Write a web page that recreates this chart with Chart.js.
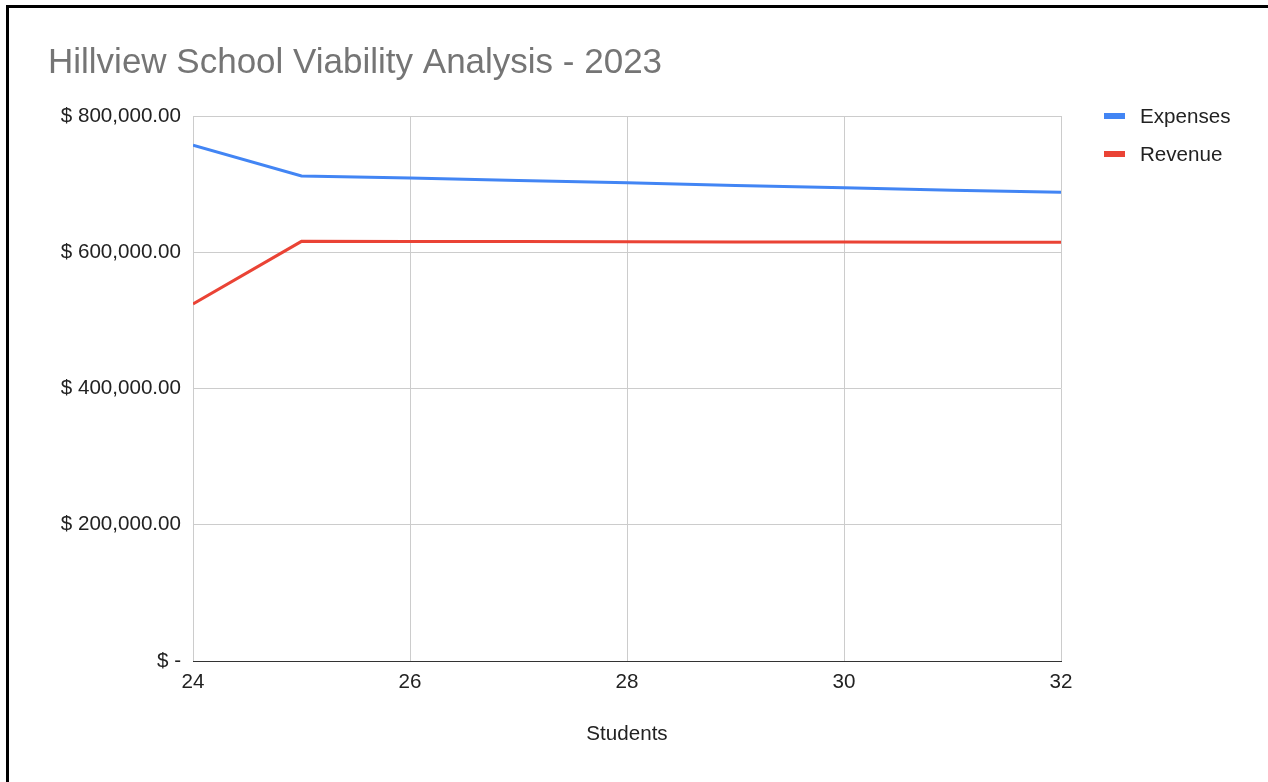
<!DOCTYPE html>
<html>
<head>
<meta charset="utf-8">
<title>Hillview School Viability Analysis - 2023</title>
<script src="https://cdn.jsdelivr.net/npm/chart.js@4.4.1/dist/chart.umd.min.js"></script>
<style>
  html, body { margin: 0; padding: 0; background: #fff; }
  #wrap { position: relative; width: 1268px; height: 782px; }
</style>
</head>
<body>
<div id="wrap"><canvas id="chart" width="1268" height="782"></canvas></div>
<script>
// chart data
const students = [24, 25, 26, 27, 28, 29, 30, 31, 32];
const expenses = [757000, 712000, 709000, 705500, 702000, 698000, 694500, 691000, 688000];
const revenue  = [524000, 616000, 615800, 615600, 615400, 615200, 615000, 614800, 614600];
const seriesNames = ['Expenses', 'Revenue'];
const seriesColors = ['#4285f4', '#ea4335'];
const chartTitle = 'Hillview School Viability Analysis - 2023';
const xTitle = 'Students';

const FONT = "'Liberation Sans', Arial, sans-serif";
const LABEL_SIZE = 20.6;

function toPoints(ys) {
  return students.map((x, i) => ({ x: x, y: ys[i] }));
}

function money(v) {
  if (v === 0) return '$ -';
  return '$ ' + v.toLocaleString('en-US', { minimumFractionDigits: 2, maximumFractionDigits: 2 });
}

/**
 * Title, legend and the page frame, drawn straight on the canvas
 */
const decorations = {
  id: 'decorations',
  afterDraw(chart) {
    const ctx = chart.ctx;
    ctx.save();

    // frame (left + top edge of the screenshot)
    ctx.fillStyle = '#000';
    ctx.fillRect(6, 5, 3, 782);
    ctx.fillRect(6, 5, 1268, 3);

    // title
    ctx.fillStyle = '#757575';
    ctx.font = '35px ' + FONT;
    ctx.textBaseline = 'middle';
    ctx.textAlign = 'left';
    ctx.fillText(chartTitle, 48, 63);

    // legend
    ctx.font = LABEL_SIZE + 'px ' + FONT;
    chart.data.datasets.forEach((ds, i) => {
      const y = 116 + i * 38;
      ctx.fillStyle = ds.borderColor;
      ctx.fillRect(1104, y - 3, 21, 6);
      ctx.fillStyle = '#222';
      ctx.fillText(ds.label, 1140, y + 1);
    });
    ctx.restore();
  }
};

new Chart(document.getElementById('chart'), {
  type: 'line',
  data: {
    datasets: [
      {
        label: seriesNames[0],
        data: toPoints(expenses),
        borderColor: seriesColors[0],
        backgroundColor: seriesColors[0],
        borderWidth: 3,
        pointRadius: 0,
        tension: 0
      },
      {
        label: seriesNames[1],
        data: toPoints(revenue),
        borderColor: seriesColors[1],
        backgroundColor: seriesColors[1],
        borderWidth: 3,
        pointRadius: 0,
        tension: 0
      }
    ]
  },
  options: {
    responsive: false,
    animation: false,
    layout: { padding: { left: 0, right: 207, top: 116, bottom: 0 } },
    plugins: {
      legend: { display: false },
      tooltip: { enabled: false }
    },
    scales: {
      x: {
        type: 'linear',
        min: 24,
        max: 32,
        afterFit: (scale) => { scale.height = 121; },
        ticks: {
          stepSize: 2,
          padding: 9,
          color: '#222',
          font: { family: FONT, size: LABEL_SIZE }
        },
        grid: { color: '#cccccc', lineWidth: 1, drawTicks: false },
        border: { display: true, color: '#333333', width: 1 },
        title: {
          display: true,
          text: xTitle,
          color: '#222',
          font: { family: FONT, size: LABEL_SIZE },
          padding: { top: 0, bottom: 35 }
        }
      },
      y: {
        min: 0,
        max: 800000,
        afterFit: (scale) => { scale.width = 193; },
        ticks: {
          stepSize: 200000,
          padding: 12,
          color: '#222',
          font: { family: FONT, size: LABEL_SIZE },
          callback: (v) => money(v)
        },
        grid: {
          color: (c) => c.tick && c.tick.value === 0 ? '#333333' : '#cccccc',
          lineWidth: 1,
          drawTicks: false
        },
        border: { display: false }
      }
    }
  },
  plugins: [decorations]
});
</script>
</body>
</html>
